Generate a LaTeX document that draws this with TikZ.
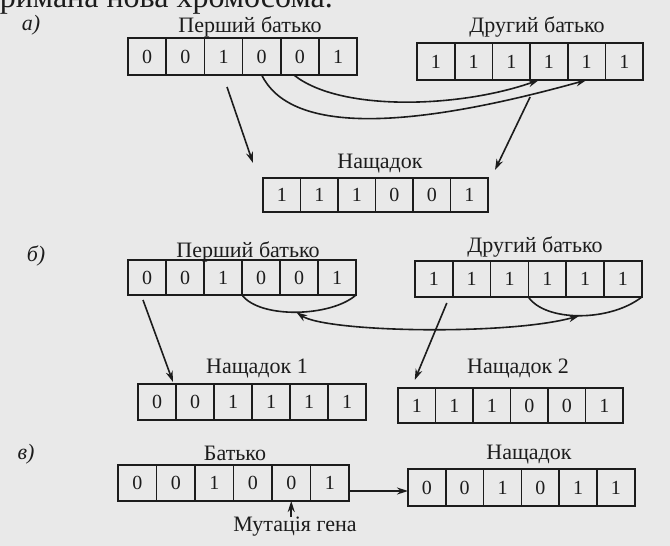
\documentclass[tikz,border=0pt]{standalone}
\usepackage{fontspec}
\setmainfont{Liberation Serif}
\usetikzlibrary{arrows.meta,calc}
\definecolor{paper}{RGB}{233,233,233}
\definecolor{ink}{RGB}{28,28,28}
\newcommand{\generow}[6]{%
  \foreach \v [count=\i] in {#6} {
    \node[cell, minimum width=#4pt, minimum height=#5pt] (#1-\i) at ({#2+(\i-0.5)*#4}, {-#3-#5/2}) {\v};
  }}
\begin{document}
\begin{tikzpicture}[x=1pt,y=1pt,
  cell/.style={draw=ink,line width=1.7pt,inner sep=0pt,outer sep=0pt,font=\fontsize{20}{20}\selectfont,text=ink},
  lab/.style={inner sep=0pt,font=\fontsize{22}{22}\selectfont,text=ink},
  tag/.style={inner sep=0pt,font=\fontsize{22}{22}\selectfont\itshape,text=ink},
  conn/.style={draw=ink,line width=1.6pt},
  tip/.style={-{Stealth[length=11pt,width=7pt]}},
  tips/.style={{Stealth[length=11pt,width=7pt]}-{Stealth[length=11pt,width=7pt]}}
]
\path[use as bounding box, fill=paper] (0,0) rectangle (670,-546);
\begin{scope}
  \clip (0,0) rectangle (670,-546);
  \node[anchor=base east, inner sep=0pt, font=\fontsize{32}{32}\selectfont, text=ink] (toptext) at (333,-7) {отримана нова хромосома.};
\end{scope}

% ---------- a)
\node[tag] (ta) at (31,-25) {а)};
\node[lab] (la1) at (250,-27) {Перший батько};
\node[lab] (la2) at (537,-27) {Другий батько};
\node[lab] (lan) at (380,-164) {Нащадок};
\generow{a1}{128}{38}{38.2}{37}{0,0,1,0,0,1}
\generow{a2}{417}{43}{37.7}{37}{1,1,1,1,1,1}
\generow{an}{263}{178}{37.5}{34}{1,1,1,0,0,1}
\draw[conn,tip] ($(a1-3.south)+(3.5,-12)$) -- ($(an-1.north west)+(-10,15)$);
\draw[conn,tip] ($(a2-4.south west)+(0,-17)$) -- ($(an-6.north east)+(7,8)$);
\draw[conn,tip] (a1-4.south) .. controls +(28,-57) and +(-187,-52) .. (a2-5.south);
\draw[conn,tip] ($(a1-5.south)+(-6,0)$) .. controls +(46,-37) and +(-79,-28) .. ($(a2-4.south)+(-10,0)$);

% ---------- b)
\node[tag] (tb) at (36,-256) {б)};
\node[lab] (lb1) at (248,-252) {Перший батько};
\node[lab] (lb2) at (535,-247) {Другий батько};
\node[lab] (lbn1) at (257,-369) {Нащадок 1};
\node[lab] (lbn2) at (518,-369) {Нащадок 2};
\generow{b1}{128}{260}{38}{35}{0,0,1,0,0,1}
\generow{b2}{415}{261}{37.8}{36}{1,1,1,1,1,1}
\generow{bn1}{138}{384}{38}{36}{0,0,1,1,1,1}
\generow{bn2}{398}{388}{37.5}{35}{1,1,1,0,0,1}
\draw[conn,tip] ($(b1-1.south)+(-4,-5)$) -- ($(bn1-1.north east)+(-3,2)$);
\draw[conn,tip] ($(b2-1.south east)+(-6,-6)$) -- ($(bn2-1.north)+(-2,8)$);
\draw[conn] (b1-4.south west) .. controls +(18,-24) and +(-25,-22) .. coordinate[pos=0.5] (u1) (b1-6.south east);
\draw[conn] (b2-4.south west) .. controls +(17,-25) and +(-32,-25) .. coordinate[pos=0.5] (u2) (b2-6.south east);
\draw[conn,tips] (u1) .. controls +(30,-20) and +(-72,-20) .. (u2);

% ---------- v)
\node[tag] (tc) at (26,-454) {в)};
\node[lab] (lc1) at (235,-453) {Батько};
\node[lab] (lc2) at (529,-455) {Нащадок};
\generow{c1}{118}{465}{38.5}{36}{0,0,1,0,0,1}
\generow{c2}{408}{469}{37.8}{37}{0,0,1,0,1,1}
\draw[conn,tip] ($(c1-6.east)+(0,-8)$) coordinate (ca) -- (ca -| c2-1.west);
\node[lab] (mut) at (295,-527) {Мутація гена};
\draw[conn,tip] (c1-5.south |- mut.north) -- (c1-5.south);
\end{tikzpicture}
\end{document}
